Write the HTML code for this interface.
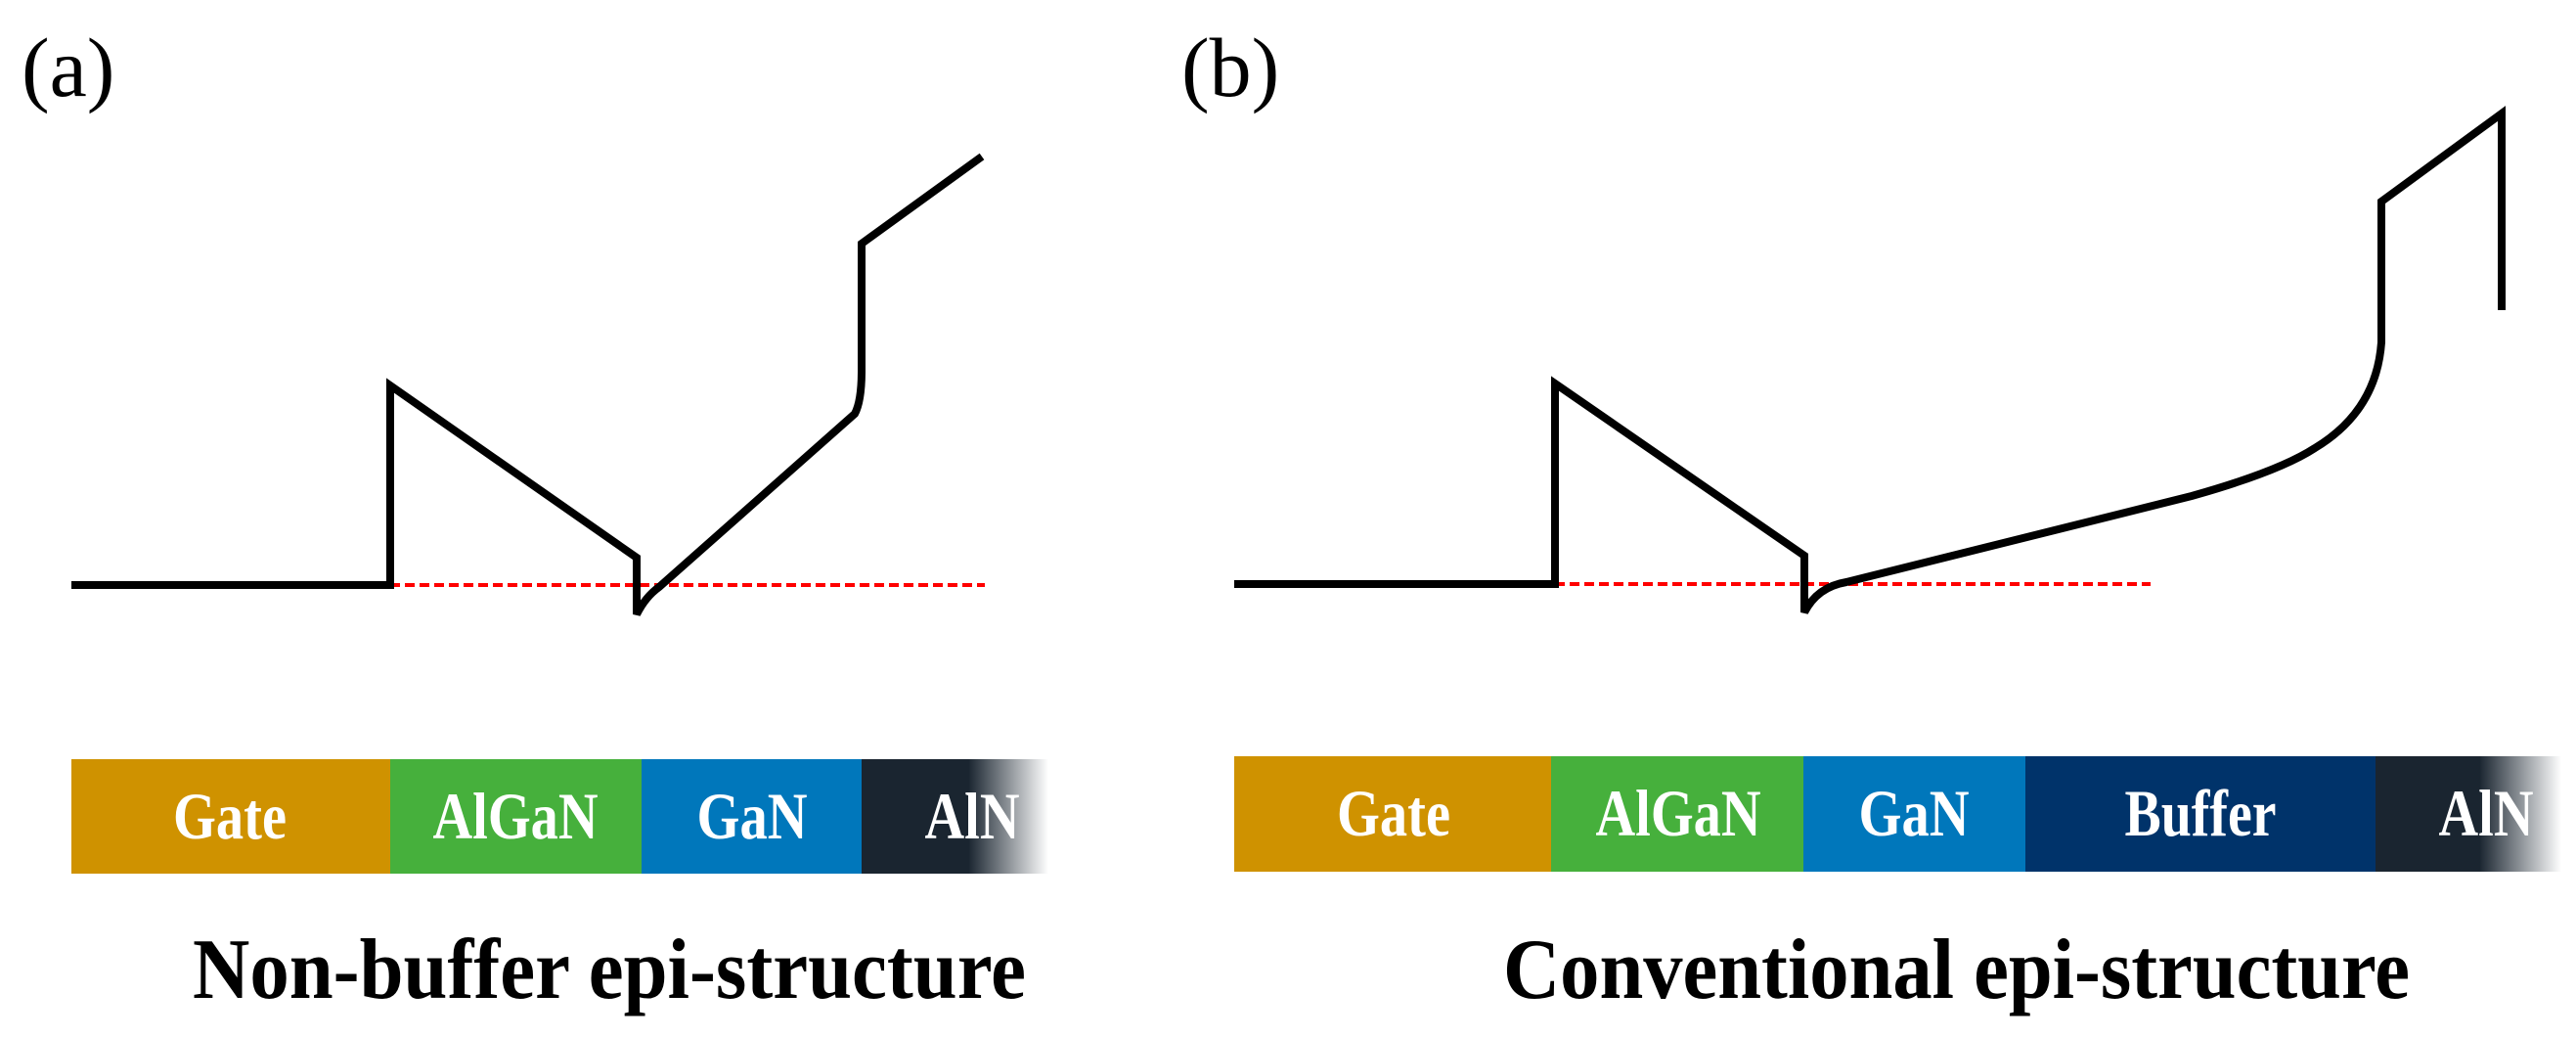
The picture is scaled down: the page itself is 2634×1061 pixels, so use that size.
<!DOCTYPE html>
<html><head><meta charset="utf-8"><style>html,body{margin:0;padding:0;background:#fff}svg{display:block}</style></head>
<body>
<svg width="2634" height="1061" viewBox="0 0 2634 1061" xmlns="http://www.w3.org/2000/svg">
<defs>
<linearGradient id="fa" x1="0" x2="1"><stop offset="0" stop-color="#1A2530"/><stop offset="1" stop-color="#1A2530" stop-opacity="0"/></linearGradient>
</defs>
<g font-family="Liberation Serif, serif">
<text x="22" y="98" font-size="86">(a)</text>
<text x="1208" y="98" font-size="86">(b)</text>
</g>
<line x1="399" y1="598" x2="1007" y2="598" stroke="#f00" stroke-width="4" stroke-dasharray="10,5"/>
<line x1="1590" y1="597" x2="2199" y2="597" stroke="#f00" stroke-width="4" stroke-dasharray="10,5"/>
<g fill="none" stroke="#000" stroke-width="8" stroke-linejoin="miter">
<path d="M73 598 H399 V394 L651 570 V628 Q660 610 674 600 L874 423 Q881 410 881 379 V249 L1004 160"/>
<path d="M1262 597 H1590 V392 L1845 568 V626 Q1858 600 1888 595 L2241 507 Q2330 482 2367 458 Q2430 420 2435 350 V206 L2558 116 V317"/>
</g>
<rect x="73" y="776" width="326" height="117" fill="#CF9200"/>
<rect x="399" y="776" width="257" height="117" fill="#46B03C"/>
<rect x="656" y="776" width="225" height="117" fill="#0077BB"/>
<rect x="881" y="776" width="110" height="117" fill="#1A2530"/>
<rect x="990" y="776" width="82" height="117" fill="url(#fa)"/>
<rect x="1262" y="773" width="324" height="118" fill="#CF9200"/>
<rect x="1586" y="773" width="258" height="118" fill="#46B03C"/>
<rect x="1844" y="773" width="227" height="118" fill="#0077BB"/>
<rect x="2071" y="773" width="358" height="118" fill="#00336A"/>
<rect x="2429" y="773" width="107" height="118" fill="#1A2530"/>
<rect x="2535" y="773" width="84" height="118" fill="url(#fa)"/>
<g font-family="Liberation Serif, serif" font-weight="bold" fill="#fff" font-size="68" text-anchor="middle">
<text x="235" y="857" textLength="116" lengthAdjust="spacingAndGlyphs">Gate</text>
<text x="527" y="857" textLength="169" lengthAdjust="spacingAndGlyphs">AlGaN</text>
<text x="769" y="857" textLength="113" lengthAdjust="spacingAndGlyphs">GaN</text>
<text x="994" y="857" textLength="97" lengthAdjust="spacingAndGlyphs">AlN</text>
<text x="1425" y="854" textLength="116" lengthAdjust="spacingAndGlyphs">Gate</text>
<text x="1716" y="854" textLength="169" lengthAdjust="spacingAndGlyphs">AlGaN</text>
<text x="1957" y="854" textLength="113" lengthAdjust="spacingAndGlyphs">GaN</text>
<text x="2250" y="854" textLength="155" lengthAdjust="spacingAndGlyphs">Buffer</text>
<text x="2542" y="854" textLength="97" lengthAdjust="spacingAndGlyphs">AlN</text>
</g>
<g font-family="Liberation Serif, serif" font-weight="bold" fill="#000" font-size="88">
<text x="197" y="1020" textLength="852" lengthAdjust="spacingAndGlyphs">Non-buffer epi-structure</text>
<text x="1537" y="1020" textLength="927" lengthAdjust="spacingAndGlyphs">Conventional epi-structure</text>
</g>
</svg>
</body></html>
